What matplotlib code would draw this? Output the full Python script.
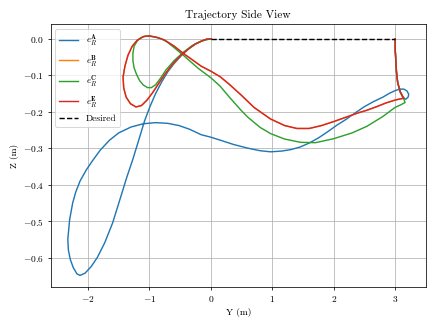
import numpy as np
import matplotlib
matplotlib.use('Agg')
import matplotlib.pyplot as plt

plt.rcParams['font.family'] = 'serif'
plt.rcParams['font.serif'] = ['cmr10']
plt.rcParams['mathtext.fontset'] = 'cm'
plt.rcParams['axes.formatter.use_mathtext'] = True

# trajectories (Y, Z) in metres
a_y = [3.00, 3.00, 3.01, 3.02, 3.04, 3.08, 3.12, 3.17, 3.21, 3.22, 3.19, 3.14, 3.08, 3.00, 2.90,
       2.80, 2.65, 2.50, 2.35, 2.20, 2.05, 1.90, 1.75, 1.60, 1.45, 1.30, 1.15, 0.97, 0.80, 0.60,
       0.37, 0.15, 0.00, -0.16, -0.35, -0.52, -0.70, -0.90, -1.10, -1.30, -1.50, -1.65, -1.80,
       -1.93, -2.03, -2.13, -2.20, -2.25, -2.30, -2.33, -2.32, -2.29, -2.24, -2.18, -2.13, -2.05,
       -1.95, -1.85, -1.73, -1.60, -1.48, -1.37, -1.27, -1.17, -1.08, -0.99, -0.90, -0.80, -0.70,
       -0.60, -0.45, -0.35, -0.25, -0.15, -0.07, 0.00]
a_z = [0.000, -0.030, -0.060, -0.090, -0.120, -0.145, -0.160, -0.166, -0.160, -0.152, -0.143,
       -0.138, -0.138, -0.142, -0.150, -0.160, -0.172, -0.186, -0.203, -0.221, -0.237, -0.255,
       -0.272, -0.286, -0.297, -0.304, -0.308, -0.310, -0.307, -0.300, -0.290, -0.278, -0.270,
       -0.263, -0.248, -0.238, -0.232, -0.230, -0.233, -0.242, -0.258, -0.278, -0.305, -0.335,
       -0.360, -0.390, -0.420, -0.450, -0.496, -0.550, -0.580, -0.605, -0.628, -0.645, -0.649,
       -0.643, -0.625, -0.600, -0.560, -0.505, -0.440, -0.380, -0.330, -0.275, -0.225, -0.185,
       -0.150, -0.118, -0.090, -0.068, -0.040, -0.026, -0.014, -0.006, -0.001, 0.000]

c_y = [3.00, 3.00, 3.01, 3.02, 3.04, 3.08, 3.13, 3.16, 3.08, 3.00, 2.80, 2.54, 2.30, 2.00, 1.70,
       1.46, 1.20, 0.97, 0.80, 0.60, 0.49, 0.30, 0.15, 0.00, -0.20, -0.35, -0.45, -0.60, -0.72,
       -0.81, -0.92, -1.00, -1.08, -1.15, -1.20, -1.25, -1.27, -1.27, -1.25, -1.21, -1.16, -1.10,
       -1.03, -0.97, -0.90, -0.82, -0.73, -0.60, -0.45, -0.30, -0.15, 0.00]
c_z = [0.000, -0.030, -0.060, -0.090, -0.120, -0.145, -0.160, -0.175, -0.182, -0.188, -0.213,
       -0.240, -0.258, -0.274, -0.285, -0.284, -0.275, -0.260, -0.243, -0.215, -0.196, -0.160,
       -0.130, -0.107, -0.082, -0.060, -0.045, -0.024, -0.008, 0.000, 0.005, 0.007, 0.007,
       0.002, -0.006, -0.020, -0.040, -0.060, -0.080, -0.098, -0.115, -0.127, -0.134, -0.134,
       -0.126, -0.108, -0.085, -0.060, -0.037, -0.018, -0.006, 0.000]

e_y = [3.00, 3.00, 3.01, 3.02, 3.04, 3.08, 3.12, 3.14, 3.08, 3.00, 2.85, 2.70, 2.54, 2.40, 2.20,
       2.00, 1.80, 1.60, 1.40, 1.20, 0.97, 0.70, 0.49, 0.30, 0.15, 0.00, -0.16, -0.30, -0.45,
       -0.60, -0.76, -0.88, -1.00, -1.10, -1.20, -1.28, -1.35, -1.40, -1.43, -1.42, -1.38, -1.31,
       -1.22, -1.13, -1.04, -0.95, -0.86, -0.76, -0.65, -0.55, -0.45, -0.35, -0.25, -0.15, -0.07,
       0.00]
e_z = [0.000, -0.030, -0.060, -0.090, -0.120, -0.145, -0.158, -0.163, -0.165, -0.168, -0.176,
       -0.186, -0.196, -0.203, -0.215, -0.227, -0.238, -0.246, -0.246, -0.238, -0.220, -0.188,
       -0.154, -0.125, -0.104, -0.089, -0.075, -0.058, -0.040, -0.020, -0.003, 0.004, 0.008,
       0.006, -0.004, -0.020, -0.045, -0.075, -0.105, -0.135, -0.160, -0.178, -0.187, -0.183,
       -0.168, -0.148, -0.125, -0.100, -0.075, -0.056, -0.040, -0.026, -0.014, -0.006, -0.001,
       0.000]

# B sits underneath E in the picture
b_y = e_y
b_z = e_z

des_y = [0.0, 3.0]
des_z = [0.0, 0.0]

fig = plt.figure(figsize=(6.4, 4.8), dpi=68.125)
plt.title('Trajectory Side View')
plt.plot(a_y, a_z, color='tab:blue', label=r'$e_R^{\mathbf{A}}$')
plt.plot(b_y, b_z, color='tab:orange', label=r'$e_R^{\mathbf{B}}$')
plt.plot(c_y, c_z, color='tab:green', label=r'$e_R^{\mathbf{C}}$')
plt.plot(e_y, e_z, color='tab:red', label=r'$e_R^{\mathbf{E}}$')
plt.plot(des_y, des_z, 'k--', label='Desired')
plt.xlabel('Y (m)')
plt.ylabel('Z (m)')
plt.grid(True)
plt.legend(loc='upper left')
plt.tight_layout()
plt.savefig('out.png')
